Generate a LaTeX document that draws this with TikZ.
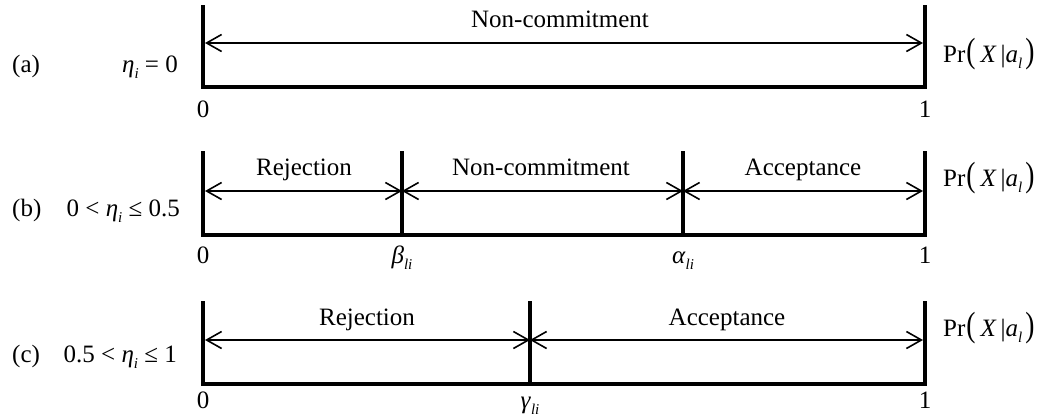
\documentclass[tikz,border=0pt]{standalone}
\usepackage{fontspec}
\usepackage{graphicx}
\setmainfont{Liberation Serif}
\usetikzlibrary{arrows.meta}
\newcommand{\mysub}[1]{\raisebox{-0.24em}{\fontsize{15}{15}\selectfont\itshape #1}}
\newcommand{\bigpar}[1]{\scalebox{1.1}[1.4]{#1}}
\newcommand{\prlabel}{Pr\hspace{1pt}\bigpar{(}\hspace{5pt}\textit{X}\hspace{4pt}|\textit{a}\mysub{l}\hspace{3pt}\bigpar{)}}
\begin{document}
\begin{tikzpicture}[x=1pt,y=-1pt,
  bar/.style={line width=4pt, line join=miter, line cap=rect},
  span/.style={line width=1.6pt, {Straight Barb[length=15pt,width=17pt]}-{Straight Barb[length=15pt,width=17pt]}},
  lbl/.style={font=\fontsize{25}{28}\selectfont, inner sep=0pt}]
\useasboundingbox (0,0) rectangle (1046,418);
% ---------- panel (a)
\coordinate (a0t) at (203,7);   \coordinate (a0b) at (203,87);
\coordinate (a1t) at (925,7);   \coordinate (a1b) at (925,87);
\coordinate (aL) at (205,43);   \coordinate (aR) at (923,43);
\draw[bar] (a0t) -- (a0b) -- (a1b) -- (a1t);
\draw[span] (aL) -- (aR);
\node[lbl, anchor=base] (ta) at (560,27) {Non-commitment};
\node[lbl, anchor=base west] (la) at (12,72) {(a)};
\node[lbl, anchor=base east] (ea) at (178,72) {\textit{η}\mysub{i} = 0};
\node[lbl, anchor=base] (za) at (203,117) {0};
\node[lbl, anchor=base] (oa) at (925,117) {1};
\node[lbl, anchor=base west] (pa) at (943,62) {\prlabel};
% ---------- panel (b)
\coordinate (b0t) at (203,153); \coordinate (b0b) at (203,235);
\coordinate (b1t) at (925,153); \coordinate (b1b) at (925,235);
\coordinate (bbt) at (402,153); \coordinate (bbb) at (402,235);
\coordinate (bat) at (683,153); \coordinate (bab) at (683,235);
\coordinate (bL) at (205,191);  \coordinate (bR) at (923,191);
\coordinate (bB) at (402,191);  \coordinate (bA) at (683,191);
\draw[bar] (b0t) -- (b0b) -- (b1b) -- (b1t);
\draw[bar] (bbt) -- (bbb);
\draw[bar] (bat) -- (bab);
\draw[span] (bL) -- (bB);
\draw[span] (bB) -- (bA);
\draw[span] (bA) -- (bR);
\node[lbl, anchor=base] (tb1) at (304,175) {Rejection};
\node[lbl, anchor=base] (tb2) at (541,175) {Non-commitment};
\node[lbl, anchor=base] (tb3) at (803,175) {Acceptance};
\node[lbl, anchor=base west] (lb) at (12,216) {(b)};
\node[lbl, anchor=base east] (eb) at (180,216) {0 < \textit{η}\mysub{i} ≤ 0.5};
\node[lbl, anchor=base] (zb) at (203,263) {0};
\node[lbl, anchor=base] (betab) at (402,263) {\textit{β}\mysub{li}};
\node[lbl, anchor=base] (alphab) at (683,263) {\textit{α}\mysub{li}};
\node[lbl, anchor=base] (ob) at (925,263) {1};
\node[lbl, anchor=base west] (pb) at (943,186) {\prlabel};
% ---------- panel (c)
\coordinate (c0t) at (203,303); \coordinate (c0b) at (203,384);
\coordinate (c1t) at (925,303); \coordinate (c1b) at (925,384);
\coordinate (cgt) at (530,303); \coordinate (cgb) at (530,384);
\coordinate (cL) at (205,340);  \coordinate (cR) at (923,340);
\coordinate (cG) at (530,340);
\draw[bar] (c0t) -- (c0b) -- (c1b) -- (c1t);
\draw[bar] (cgt) -- (cgb);
\draw[span] (cL) -- (cG);
\draw[span] (cG) -- (cR);
\node[lbl, anchor=base] (tc1) at (367,325) {Rejection};
\node[lbl, anchor=base] (tc2) at (727,325) {Acceptance};
\node[lbl, anchor=base west] (lc) at (12,362) {(c)};
\node[lbl, anchor=base east] (ec) at (177,362) {0.5 < \textit{η}\mysub{i} ≤ 1};
\node[lbl, anchor=base] (zc) at (203,408) {0};
\node[lbl, anchor=base] (gammac) at (530,408) {\textit{γ}\mysub{li}};
\node[lbl, anchor=base] (oc) at (925,408) {1};
\node[lbl, anchor=base west] (pc) at (943,336) {\prlabel};
\end{tikzpicture}
\end{document}
